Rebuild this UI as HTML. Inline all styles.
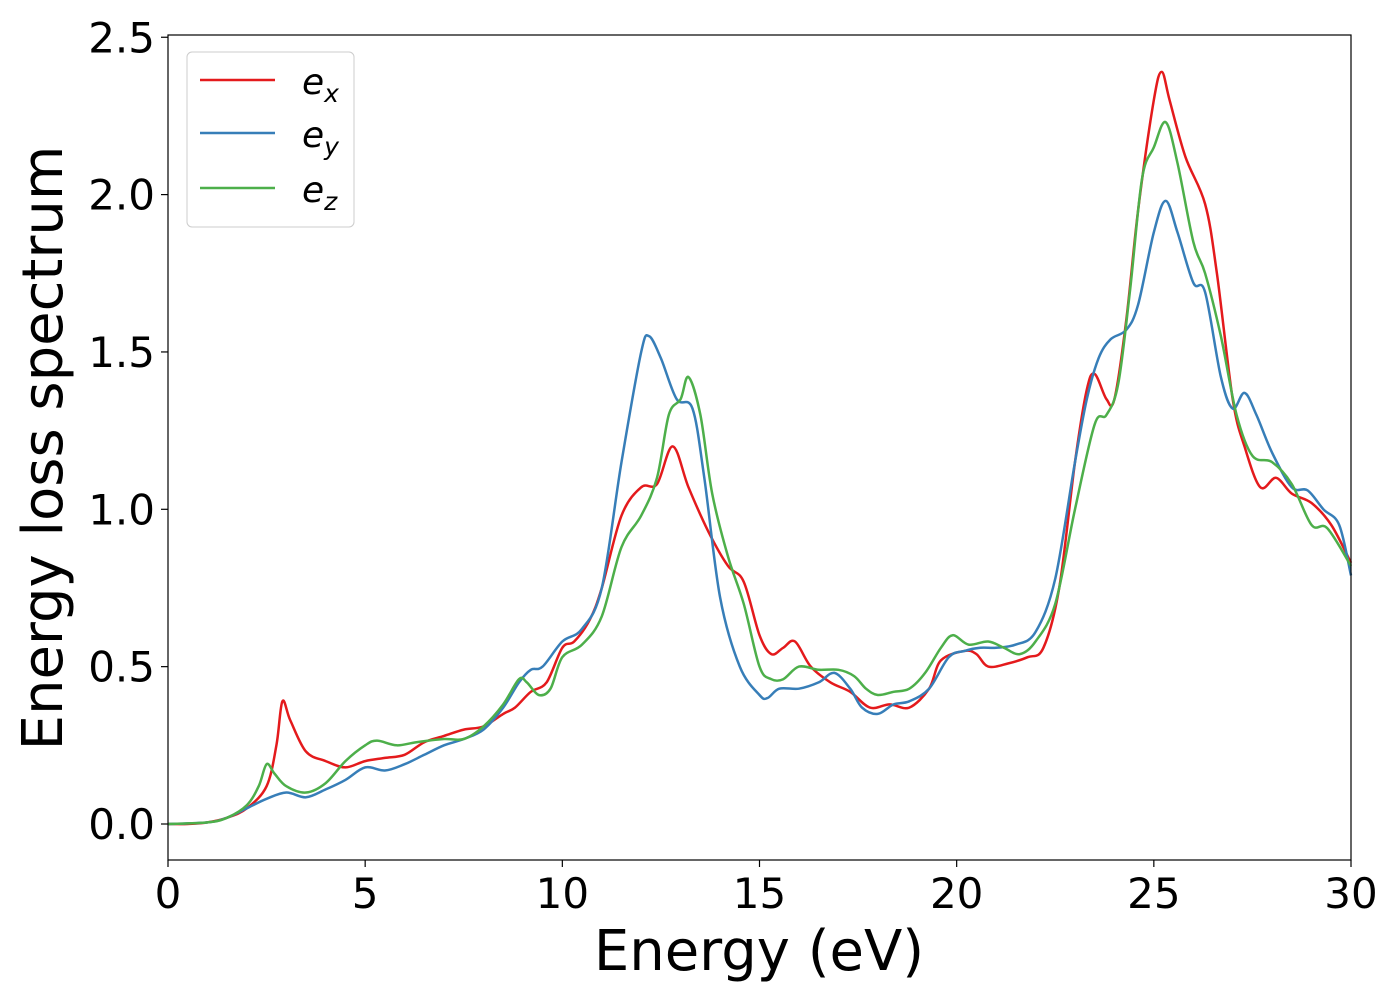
<!DOCTYPE html>
<html><head><meta charset="utf-8">
<style>
html,body{margin:0;padding:0;background:#fff;}
svg{display:block;font-family:"DejaVu Sans","Liberation Sans",sans-serif;}
</style></head>
<body>
<svg id="chart" width="1400" height="1000" viewBox="0 0 1400 1000" xmlns="http://www.w3.org/2000/svg">
<rect x="0" y="0" width="1400" height="1000" fill="#fff"/>
<g id="axes"></g>
<g id="series"></g>
<rect x="168" y="35" width="1183" height="825" fill="none" stroke="#000" stroke-width="1.2"/>
<text x="759" y="970" font-size="56" text-anchor="middle">Energy (eV)</text>
<text transform="translate(62,448) rotate(-90)" font-size="56" text-anchor="middle">Energy loss spectrum</text>
<g>
<rect x="187" y="52" width="167" height="175" rx="5" fill="#fff" stroke="#ccc" stroke-width="1"/>
<line x1="200" y1="80" x2="275" y2="80" stroke="#e41a1c" stroke-width="2.5"/>
<text x="302" y="94" font-size="36" font-style="italic">e<tspan font-size="25" dy="8">x</tspan></text>
<line x1="200" y1="133" x2="275" y2="133" stroke="#377eb8" stroke-width="2.5"/>
<text x="302" y="147" font-size="36" font-style="italic">e<tspan font-size="25" dy="8">y</tspan></text>
<line x1="200" y1="188" x2="275" y2="188" stroke="#4daf4a" stroke-width="2.5"/>
<text x="302" y="202" font-size="36" font-style="italic">e<tspan font-size="25" dy="8">z</tspan></text>
</g>
</svg>
<script>
const xTicks=[0,5,10,15,20,25,30];
const yTicks=[0.0,0.5,1.0,1.5,2.0,2.5];
const yTickLabels=["0.0","0.5","1.0","1.5","2.0","2.5"];
const exX=[0,0.5,1,1.5,2,2.5,2.75,2.9,3.1,3.5,4,4.5,5,5.5,6,6.5,7,7.5,8,8.5,8.8,9.2,9.6,10,10.3,10.7,11,11.5,12,12.4,12.8,13.2,13.7,14.2,14.6,15,15.3,15.6,15.9,16.3,16.8,17.3,17.8,18.3,18.8,19.3,19.6,20.2,20.5,20.8,21.3,21.8,22.2,22.6,23,23.3,23.5,23.8,24,24.3,24.6,25,25.2,25.4,25.8,26.3,26.6,27,27.3,27.7,28.1,28.5,29,29.5,30];
const exY=[0,0,0.005,0.02,0.05,0.12,0.25,0.39,0.33,0.23,0.2,0.18,0.2,0.21,0.22,0.26,0.28,0.3,0.31,0.35,0.37,0.42,0.45,0.56,0.58,0.65,0.75,0.98,1.07,1.08,1.2,1.07,0.93,0.82,0.77,0.6,0.54,0.56,0.58,0.5,0.45,0.42,0.37,0.38,0.37,0.43,0.52,0.55,0.54,0.5,0.51,0.53,0.56,0.75,1.15,1.38,1.43,1.35,1.35,1.6,1.95,2.3,2.39,2.3,2.12,1.97,1.75,1.35,1.2,1.07,1.1,1.05,1.02,0.95,0.83];
const eyX=[0,1,1.5,2,2.5,3,3.5,4,4.5,5,5.5,6,6.5,7,7.5,8,8.5,8.9,9.2,9.5,10,10.5,11,11.5,12,12.2,12.5,12.9,13.3,13.6,14,14.5,15,15.2,15.5,16,16.5,16.9,17.3,17.6,18,18.4,18.8,19.3,19.8,20.2,20.6,21,21.5,22,22.5,23,23.3,23.6,23.9,24.3,24.6,25,25.3,25.6,26,26.3,26.7,27,27.3,27.6,28,28.5,28.9,29.3,29.7,30];
const eyY=[0,0.005,0.02,0.05,0.08,0.1,0.085,0.11,0.14,0.18,0.17,0.19,0.22,0.25,0.27,0.3,0.37,0.45,0.49,0.5,0.58,0.62,0.75,1.15,1.5,1.55,1.48,1.35,1.32,1.1,0.72,0.5,0.41,0.4,0.43,0.43,0.45,0.48,0.43,0.37,0.35,0.38,0.39,0.43,0.53,0.55,0.56,0.56,0.57,0.61,0.78,1.15,1.35,1.48,1.54,1.57,1.65,1.88,1.98,1.88,1.72,1.69,1.42,1.32,1.37,1.3,1.18,1.07,1.06,1.0,0.95,0.79];
const ezX=[0,1,1.5,2,2.3,2.5,2.7,3,3.5,4,4.5,5,5.3,5.8,6.3,7,7.5,8,8.5,8.9,9.1,9.4,9.7,10,10.5,11,11.5,12,12.4,12.7,13,13.2,13.5,13.8,14.2,14.6,15,15.3,15.6,16,16.5,17,17.4,17.7,18,18.4,18.8,19.2,19.6,19.9,20.3,20.8,21.2,21.6,22,22.5,23,23.5,23.8,24.1,24.4,24.7,25,25.3,25.6,26,26.3,26.7,27.1,27.5,28,28.5,29,29.4,30];
const ezY=[0,0.005,0.02,0.06,0.12,0.19,0.16,0.12,0.1,0.13,0.2,0.25,0.265,0.25,0.26,0.27,0.27,0.31,0.38,0.46,0.45,0.41,0.43,0.53,0.57,0.66,0.88,0.98,1.1,1.3,1.35,1.42,1.3,1.05,0.85,0.7,0.5,0.46,0.46,0.5,0.49,0.49,0.47,0.43,0.41,0.42,0.43,0.48,0.56,0.6,0.57,0.58,0.56,0.54,0.58,0.7,1.0,1.27,1.3,1.4,1.7,2.05,2.15,2.23,2.1,1.85,1.75,1.55,1.3,1.17,1.15,1.08,0.95,0.94,0.82];

const NS="http://www.w3.org/2000/svg";
const X0=168,X1=1351,Y0v=824,PXU=314.7;
function sx(v){return X0+(X1-X0)*v/30;}
function sy(v){return Y0v-PXU*v;}
const axes=document.getElementById('axes');
xTicks.forEach(t=>{
  const l=document.createElementNS(NS,'line');
  
  
  l.setAttribute('x1',sx(t));l.setAttribute('x2',sx(t));l.setAttribute('y1',860);l.setAttribute('y2',867);l.setAttribute('stroke','#000');l.setAttribute('stroke-width','1.2');
  axes.appendChild(l);
  const tx=document.createElementNS(NS,'text');
  
  
  tx.setAttribute('x',sx(t));tx.setAttribute('y',908);tx.setAttribute('font-size','42');tx.setAttribute('text-anchor','middle');
  tx.textContent=String(t);axes.appendChild(tx);
});
yTicks.forEach((t,i)=>{
  const l=document.createElementNS(NS,'line');
  
  
  l.setAttribute('x1',161);l.setAttribute('x2',168);l.setAttribute('y1',sy(t));l.setAttribute('y2',sy(t));l.setAttribute('stroke','#000');l.setAttribute('stroke-width','1.2');
  axes.appendChild(l);
  const tx=document.createElementNS(NS,'text');
  
  
  tx.setAttribute('x',155);tx.setAttribute('y',sy(t)+15);tx.setAttribute('font-size','42');tx.setAttribute('text-anchor','end');
  tx.textContent=yTickLabels[i];axes.appendChild(tx);
});
function pathFor(xs,ys){
  const p=xs.map((x,i)=>[sx(x),sy(ys[i])]);
  let d='M'+p[0][0].toFixed(1)+','+p[0][1].toFixed(1);
  for(let i=0;i<p.length-1;i++){
    const a=p[Math.max(0,i-1)],b=p[i],c=p[i+1],e=p[Math.min(p.length-1,i+2)];
    const c1=[b[0]+(c[0]-a[0])/6,b[1]+(c[1]-a[1])/6];
    const c2=[c[0]-(e[0]-b[0])/6,c[1]-(e[1]-b[1])/6];
    d+=' C'+c1[0].toFixed(1)+','+c1[1].toFixed(1)+' '+c2[0].toFixed(1)+','+c2[1].toFixed(1)+' '+c[0].toFixed(1)+','+c[1].toFixed(1);
  }
  return d;
}
const g=document.getElementById('series');
[[exX,exY,'#e41a1c','series-ex'],[eyX,eyY,'#377eb8','series-ey'],[ezX,ezY,'#4daf4a','series-ez']].forEach(s=>{
  const p=document.createElementNS(NS,'path');
  
  
  p.setAttribute('d',pathFor(s[0],s[1]));p.setAttribute('fill','none');p.setAttribute('stroke',s[2]);p.setAttribute('stroke-width','2.5');
  g.appendChild(p);
});
</script>
</body></html>
